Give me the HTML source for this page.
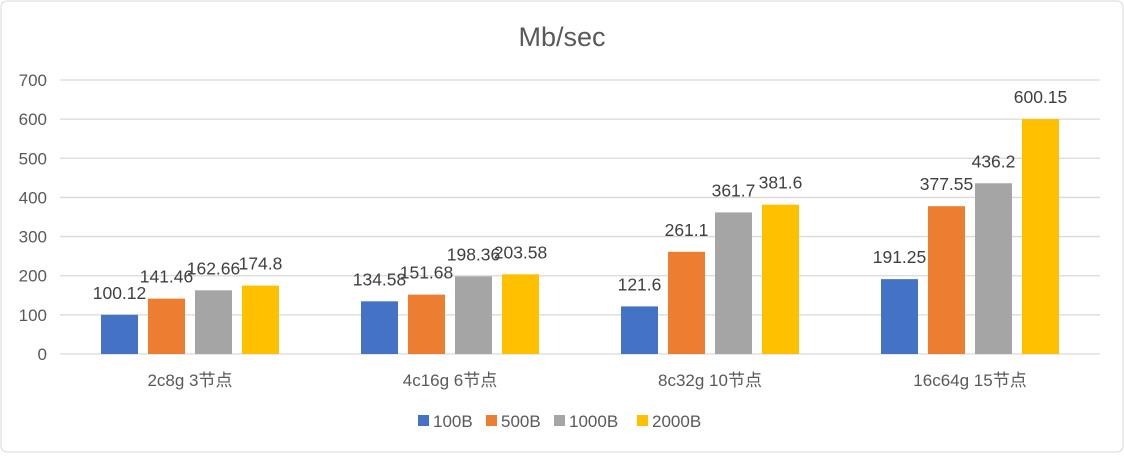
<!DOCTYPE html>
<html><head><meta charset="utf-8"><style>
body{margin:0;background:#fff}
svg text{font-family:"Liberation Sans","Noto Sans CJK SC",sans-serif}
</style></head><body>
<svg id="c" width="1124" height="453">
<rect x="1" y="1" width="1122" height="451" rx="6" fill="#fff" stroke="#d9d9d9"/>
<text x="562" y="46" text-anchor="middle" font-size="27" fill="#595959">Mb/sec</text>
<g id="grid"></g><g id="bars"></g><g id="legend"></g>
</svg>
<script>
const categories=["2c8g 3节点","4c16g 6节点","8c32g 10节点","16c64g 15节点"];
const seriesNames=["100B","500B","1000B","2000B"];
const s100=[100.12,134.58,121.6,191.25];
const s500=[141.46,151.68,261.1,377.55];
const s1000=[162.66,198.36,361.7,436.2];
const s2000=[174.8,203.58,381.6,600.15];
const yTicks=[0,100,200,300,400,500,600,700];
const colors=["#4472c4","#ed7d31","#a5a5a5","#ffc000"];
const series=[s100,s500,s1000,s2000];
const NS="http://www.w3.org/2000/svg";
const X0=60,X1=1100,Y0=354,Y1=80,MAX=700;
const y=v=>Y0-(v/MAX)*(Y0-Y1);
const gw=(X1-X0)/categories.length;
const xc=i=>X0+gw*(i+0.5);
function mk(t,a,p){const e=document.createElementNS(NS,t);for(const k in a)e.setAttribute(k,a[k]);p.appendChild(e);return e;}
const grid=document.getElementById('grid'),bars=document.getElementById('bars'),leg=document.getElementById('legend');
yTicks.forEach(v=>{
 const l=mk('line',{x1:X0,x2:X1,y1:y(v),y2:y(v),stroke:'#d9d9d9','stroke-width':1.3},grid);
 
 
 const t=mk('text',{x:47,y:y(v)+6,'text-anchor':'end','font-size':17,fill:'#595959'},grid);
 t.textContent=v;
 
 
});
const bw=37,gap=10;
categories.forEach((c,i)=>{
 const start=xc(i)-(4*bw+3*gap)/2;
 series.forEach((s,j)=>{
  const bx=start+j*(bw+gap);
  const r=mk('rect',{x:bx,y:y(s[i]),width:bw,height:Y0-y(s[i]),fill:colors[j]},bars);
  
  
  const t=mk('text',{x:bx+bw/2,y:y(s[i])-16,'text-anchor':'middle','font-size':17.5,fill:'#404040'},bars);
  t.textContent=s[i];
  
  
 });
 const t=mk('text',{x:xc(i),y:386,'text-anchor':'middle','font-size':17,fill:'#595959'},bars);
 t.textContent=c;
 
 
});
const lx=[418,486,554,637];
seriesNames.forEach((n,j)=>{
 const r=mk('rect',{x:lx[j],y:415,width:11,height:11,fill:colors[j]},leg);
 
 
 const t=mk('text',{x:lx[j]+15,y:427,'font-size':17,fill:'#595959'},leg);
 t.textContent=n;
 
 
});
</script>
</body></html>
